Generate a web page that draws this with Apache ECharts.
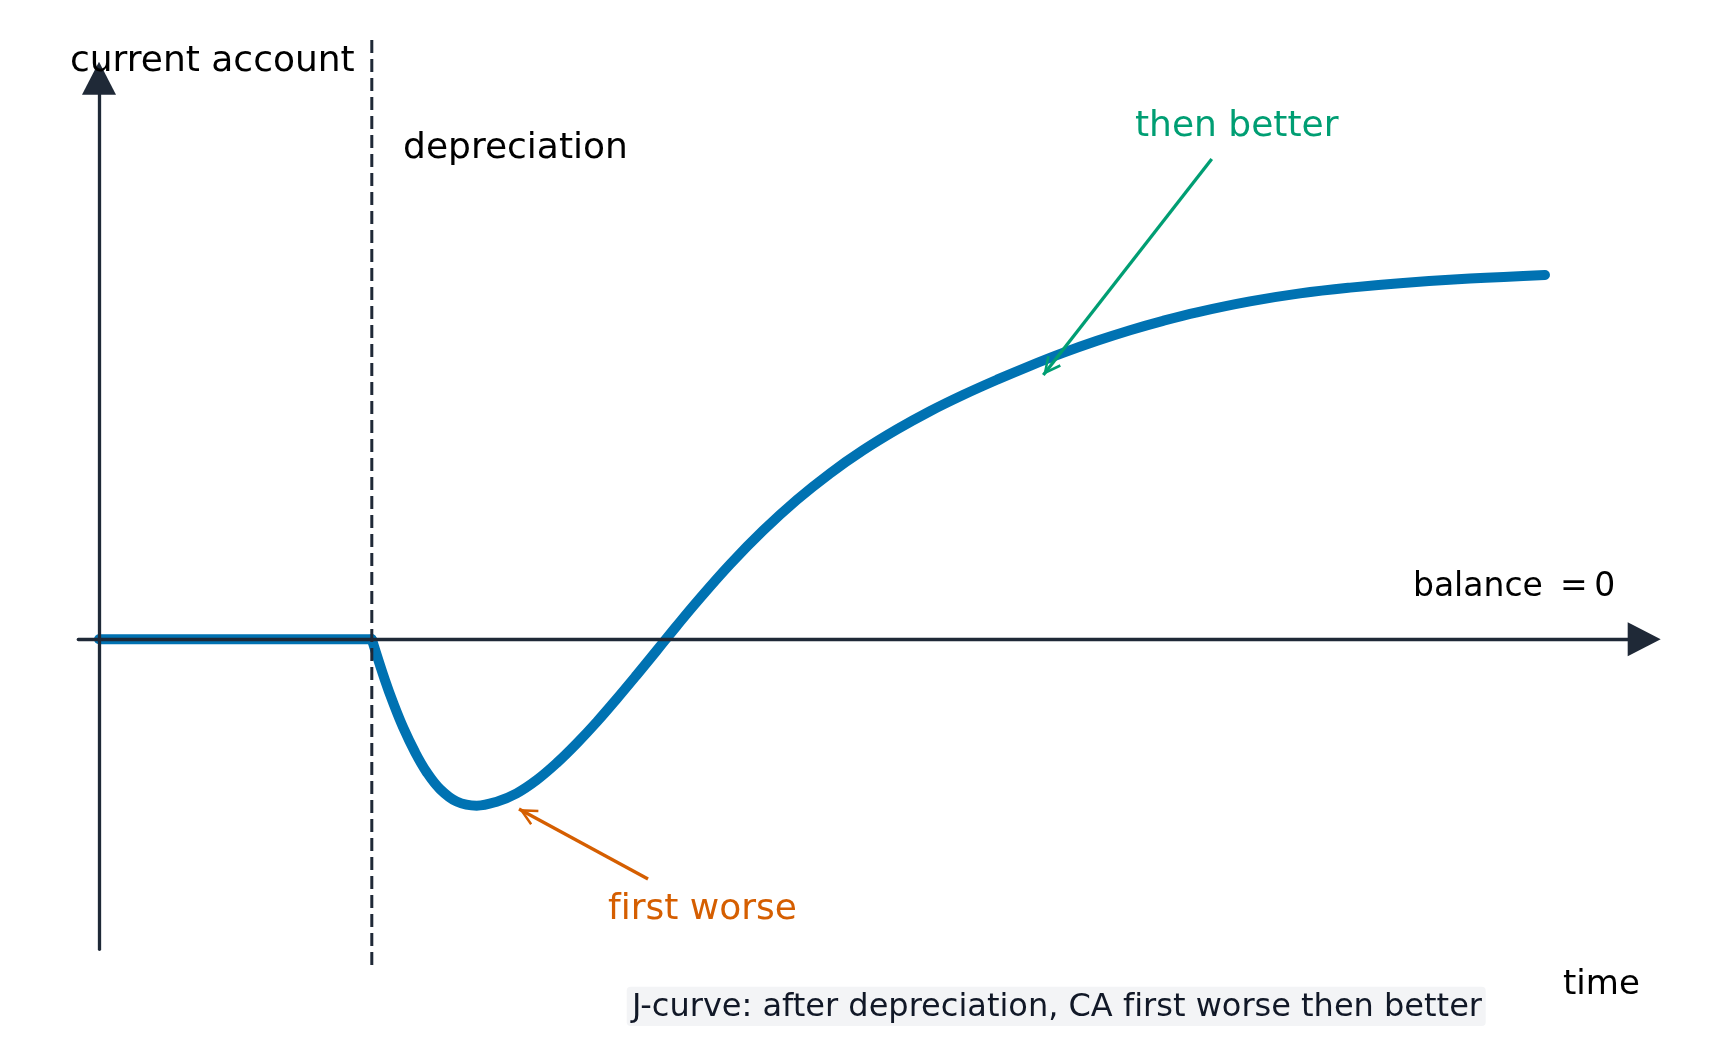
<!DOCTYPE html>
<html>
<head>
<meta charset="utf-8">
<title>J-curve</title>
<script src="https://cdn.jsdelivr.net/npm/echarts@6/dist/echarts.min.js"></script>
<style>
	html, body { margin: 0; padding: 0; background: #fff; }
	#main { width: 1723px; height: 1063px; }
</style>
</head>
<body>
<div id="main"></div>
<script>
	// J-curve: time (x) and current account (y)
	var timeVals = [0, 2.0, 2.097, 2.158, 2.231, 2.317, 2.402, 2.5, 2.622, 2.769, 2.916, 3.062, 3.209, 3.356,
		3.502, 3.649, 3.795, 3.942, 4.089, 4.235, 4.382, 4.626, 4.868, 5.117, 5.359, 5.601, 5.85, 6.092,
		6.334, 6.584, 6.826, 7.067, 7.317, 7.559, 7.801, 8.05, 8.438, 8.805, 9.172, 9.538, 10.051, 10.601];
	var caVals = [0, 0, -0.412, -0.641, -0.886, -1.13, -1.329, -1.499, -1.623, -1.665, -1.625, -1.541, -1.408, -1.238,
		-1.043, -0.828, -0.598, -0.358, -0.113, 0.132, 0.372, 0.748, 1.085, 1.394, 1.658, 1.889, 2.098, 2.28,
		2.442, 2.595, 2.734, 2.863, 2.984, 3.09, 3.184, 3.269, 3.378, 3.458, 3.516, 3.56, 3.606, 3.643];

	// depreciation moment and the span of its dashed marker
	var depTime = 2;
	var depSpan = [5.992, -3.285];

	var FONT = 'DejaVu Sans';
	var AXIS_COLOR = '#1f2937';
	var CURVE_STYLE = { color: '#0072B2', width: 10, cap: 'round', join: 'round' };

	var curveData = timeVals.map(function (t, i) { return [t, caVals[i]]; });
	var depIdx = timeVals.indexOf(depTime);
	var flatPart = curveData.slice(0, depIdx + 1);   // before depreciation
	var responsePart = curveData.slice(depIdx);      // after depreciation (sharp corner kept)
	var depData = depSpan.map(function (v) { return [depTime, v]; });

	// open arrow head (matplotlib "->" look); its tip sits in the middle of the symbol box
	var openHead = 'path://M8,-2.52 L8.02,-2.52 L8,-2.5 Z M8,16 L16.7,33.4 L14.46,34.52 L8,21.6 L1.54,34.52 L-0.7,33.4 Z';

	var myChart = echarts.init(document.getElementById('main'));
	var option = {
		backgroundColor: '#ffffff',
		animation: false,
		grid: { left: 78.3, right: 78.8, top: 78.2, bottom: 113.7, containLabel: false },
		xAxis: {
			type: 'value',
			min: -0.1518,
			max: 11.3284,
			z: 3,
			axisLine: {
				show: true,
				onZero: true,
				symbol: ['none', 'triangle'],
				symbolSize: [34, 33],
				lineStyle: { color: AXIS_COLOR, width: 3.3 }
			},
			axisTick: { show: false },
			axisLabel: { show: false },
			splitLine: { show: false }
		},
		yAxis: {
			type: 'value',
			min: -3.101,
			max: 5.61,
			z: 3,
			axisLine: {
				show: true,
				onZero: true,
				symbol: ['none', 'triangle'],
				symbolSize: [34, 33],
				lineStyle: { color: AXIS_COLOR, width: 3.3 }
			},
			axisTick: { show: false },
			axisLabel: { show: false },
			splitLine: { show: false }
		},
		series: [
			{
				name: 'current account',
				type: 'line',
				data: flatPart,
				smooth: false,
				symbol: 'none',
				clip: false,
				z: 2,
				lineStyle: CURVE_STYLE
			},
			{
				name: 'current account',
				type: 'line',
				data: responsePart,
				smooth: 0.4,
				symbol: 'none',
				clip: false,
				z: 2,
				lineStyle: CURVE_STYLE,
				markLine: {
					silent: true,
					symbol: ['none', openHead],
					symbolSize: [17.4, 37.04],
					label: { show: false },
					data: [
						[
							{ coord: [8.158, 4.802], lineStyle: { color: '#009E73', width: 3.3, type: 'solid' }, itemStyle: { color: '#009E73' } },
							{ coord: [6.923, 2.642] }
						],
						[
							{ coord: [4.025, -2.398], lineStyle: { color: '#D55E00', width: 3.3, type: 'solid' }, itemStyle: { color: '#D55E00' } },
							{ coord: [3.079, -1.698] }
						]
					]
				},
				markPoint: {
					silent: true,
					symbol: 'circle',
					symbolSize: 0,
					label: {
						show: true,
						position: 'inside',
						align: 'left',
						verticalAlign: 'middle',
						fontFamily: FONT,
						fontSize: 36,
						textBorderWidth: 0,
						formatter: function (p) { return p.name; }
					},
					data: [
						{ name: 'depreciation', coord: [2.229, 4.901], label: { color: '#000000' } },
						{ name: 'then better', coord: [7.595, 5.125], label: { color: '#009E73' } },
						{ name: 'f\u200Cirst worse', coord: [3.732, -2.703], label: { color: '#D55E00' } },
						{ name: 'balance \u2009=\u20090', coord: [9.633, 0.514], label: { color: '#000000', fontSize: 33 } }
					]
				}
			},
			{
				name: 'depreciation',
				type: 'line',
				data: depData,
				symbol: 'none',
				clip: false,
				z: 4,
				lineStyle: { color: AXIS_COLOR, width: 3, type: [13, 6] }
			}
		],
		graphic: [
			{
				type: 'text',
				x: 70,
				y: 61.7,
				z: 10,
				style: {
					text: 'current account',
					font: '36px "' + FONT + '"',
					fill: '#000000',
					align: 'left', textAlign: 'left',
					verticalAlign: 'middle', textVerticalAlign: 'middle'
				}
			},
			{
				type: 'text',
				x: 1563,
				y: 985.2,
				z: 10,
				style: {
					text: 'time',
					font: '34px "' + FONT + '"',
					fill: '#000000',
					align: 'left', textAlign: 'left',
					verticalAlign: 'middle', textVerticalAlign: 'middle'
				}
			},
			{
				type: 'rect',
				z: 9,
				shape: { x: 626.7, y: 986.7, width: 859, height: 39.3, r: 4 },
				style: { fill: '#f3f4f6' }
			},
			{
				type: 'text',
				x: 632,
				y: 1007.5,
				z: 10,
				style: {
					text: 'J-curve: after depreciation, CA f\u200Cirst worse then better',
					font: '32px "' + FONT + '"',
					fill: '#111827',
					align: 'left', textAlign: 'left',
					verticalAlign: 'middle', textVerticalAlign: 'middle'
				}
			}
		]
	};

	// draw
	myChart.setOption(option);
</script>
</body>
</html>
